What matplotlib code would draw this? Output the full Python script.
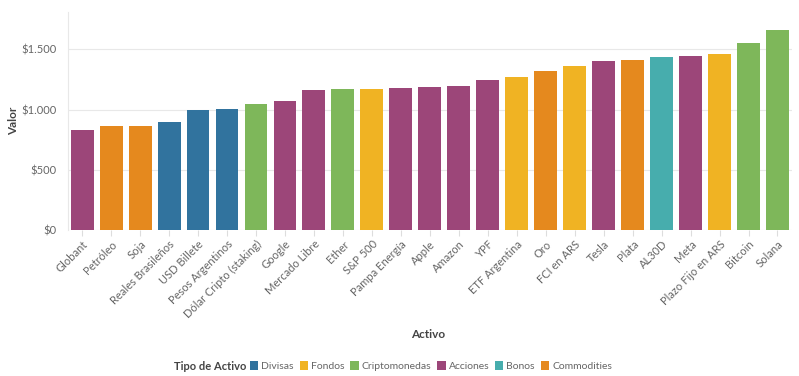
import matplotlib
matplotlib.use("Agg")
import matplotlib.pyplot as plt
from matplotlib.patches import Patch

plt.rcParams['font.family'] = ['Lato', 'DejaVu Sans']

activos = ["Globant", "Petróleo", "Soja", "Reales Brasileños", "USD Billete",
           "Pesos Argentinos", "Dólar Cripto (staking)", "Google", "Mercado Libre",
           "Ether", "S&P 500", "Pampa Energía", "Apple", "Amazon", "YPF",
           "ETF Argentina", "Oro", "FCI en ARS", "Tesla", "Plata", "AL30D", "Meta",
           "Plazo Fijo en ARS", "Bitcoin", "Solana"]
valores = [834, 862, 865, 900, 1000, 1006, 1045, 1075, 1163, 1169, 1174, 1177,
           1188, 1194, 1244, 1269, 1321, 1360, 1406, 1410, 1437, 1445, 1464, 1553, 1661]
tipos = ["Acciones", "Commodities", "Commodities", "Divisas", "Divisas", "Divisas",
         "Criptomonedas", "Acciones", "Acciones", "Criptomonedas", "Fondos", "Acciones",
         "Acciones", "Acciones", "Acciones", "Fondos", "Commodities", "Fondos",
         "Acciones", "Commodities", "Bonos", "Acciones", "Fondos", "Criptomonedas",
         "Criptomonedas"]
categorias = ["Divisas", "Fondos", "Criptomonedas", "Acciones", "Bonos", "Commodities"]
colores = {"Divisas": "#31739E", "Fondos": "#F0B323", "Criptomonedas": "#7EB75A",
           "Acciones": "#9C4679", "Bonos": "#47ADAD", "Commodities": "#E5891E"}
yticks = [0, 500, 1000, 1500]
ytick_labels = ["$0", "$500", "$1.000", "$1.500"]

fig = plt.figure(figsize=(7.99, 3.76), dpi=100)
ax = fig.add_axes([0.0847, 0.3875, 0.9065, 0.5806])

x = list(range(len(activos)))
ax.bar(x, valores, width=0.79, color=[colores[t] for t in tipos], zorder=2)
ax.set_xlim(-0.5, len(activos) - 0.5)
ax.set_ylim(0, 1810)
ax.set_yticks(yticks)
ax.set_yticklabels(ytick_labels)
ax.set_xticks(x)
ax.set_xticklabels(activos, rotation=45, ha='right', rotation_mode='anchor')

ax.grid(axis='y', color='#E8E8E8', linewidth=0.8, zorder=0)
for s in ['top', 'right', 'bottom']:
    ax.spines[s].set_visible(False)
ax.spines['left'].set_color('#E8E8E8')
ax.spines['left'].set_linewidth(0.8)
ax.tick_params(axis='y', length=0, pad=8, labelsize=8, labelcolor='#666666')
ax.tick_params(axis='x', length=4, color='#DDDDDD', width=0.8, pad=2,
               labelsize=8, labelcolor='#666666')

fig.text(14 / 799, 1 - 121 / 376, "Valor", fontsize=8.5, fontweight='bold',
         color='#444444', ha='center', va='center', rotation=90)
fig.text(428 / 799, 1 - 334 / 376, "Activo", fontsize=8.5, fontweight='bold',
         color='#444444', ha='center', va='center')

fig.text(174 / 799, 1 - 366 / 376, "Tipo de Activo", fontsize=8, fontweight='bold',
         color='#444444', ha='left', va='center')
handles = [Patch(facecolor=colores[c], edgecolor='none', label=c) for c in categorias]
leg = fig.legend(handles=handles, loc='center left',
                 bbox_to_anchor=(250 / 799, 1 - 366 / 376), ncol=6, frameon=False,
                 fontsize=7.5, handlelength=0.8, handleheight=0.9, handletextpad=0.3,
                 columnspacing=0.55, borderpad=0, borderaxespad=0)
for t in leg.get_texts():
    t.set_color('#666666')

fig.savefig("out.png", dpi=100, facecolor='white')
